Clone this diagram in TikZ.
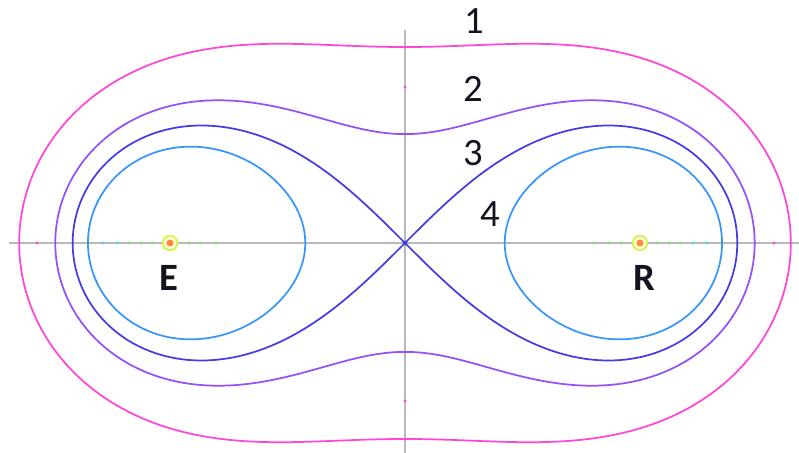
\documentclass[tikz,border=0pt]{standalone}
\usepackage{fontspec}
\setmainfont{Carlito}
\definecolor{cassiniAxis}{RGB}{185,185,185}
\definecolor{cassiniOne}{RGB}{255,70,215}
\definecolor{cassiniTwo}{RGB}{150,80,250}
\definecolor{cassiniThree}{RGB}{70,60,230}
\definecolor{cassiniFour}{RGB}{55,150,250}
\definecolor{cassiniRing}{RGB}{215,245,70}
\definecolor{cassiniFocus}{RGB}{255,135,60}
\definecolor{cassiniDotA}{RGB}{110,230,110}
\definecolor{cassiniDotB}{RGB}{60,215,235}
\definecolor{cassiniText}{RGB}{20,20,30}

\begin{document}
\begin{tikzpicture}[x=75pt,y=75pt,
      declare function={ca=2.35;
        outr(\t,\b)=sqrt(ca*ca*cos(2*\t)+sqrt(\b^4-ca^4*sin(2*\t)*sin(2*\t)));
        wre(\p,\b)=ca*ca+\b*\b*cos(\p);
        wim(\p,\b)=\b*\b*sin(\p);
        wmod(\p,\b)=sqrt(wre(\p,\b)*wre(\p,\b)+wim(\p,\b)*wim(\p,\b));
        warg(\p,\b)=atan2(wim(\p,\b),wre(\p,\b));},
      axis/.style={draw=cassiniAxis, line width=1.3pt},
      oval/.style={line width=1.3pt, line join=round},
      numlabel/.style={font=\fontsize{29}{32}\selectfont,
        text=cassiniText, inner sep=0pt},
      focuslabel/.style={font=\fontsize{29}{32}\selectfont\bfseries,
        text=cassiniText, inner sep=0pt},
      tick/.style={inner sep=0pt, minimum size=2.4pt, circle}]
      \useasboundingbox (-4.05,-2.10) rectangle (3.94,2.43);
      \fill[white] (-4.05,-2.10) rectangle (3.94,2.43);

      % axes
      \coordinate (axW) at (-3.96,0);
      \coordinate (axE) at (3.94,0);
      \coordinate (axN) at (0,2.13);
      \coordinate (axS) at (0,-2.10);
      \draw[axis] (axW) -- (axE);
      \draw[axis] (axN) -- (axS);

      % curves 1 and 2 (one closed oval each)
      \draw[oval, cassiniOne] plot[domain=0:360, samples=181, smooth cycle]
        (\x:{outr(\x,3.06)});
      \draw[oval, cassiniTwo] plot[domain=0:360, samples=181, smooth cycle]
        (\x:{outr(\x,2.59)});
      % curve 3, the lemniscate
      \draw[oval, cassiniThree] plot[domain=0:360, samples=181, smooth]
        ({ca*sqrt(2)*cos(\x)/(1+sin(\x)*sin(\x))},
         {ca*sqrt(2)*sin(\x)*cos(\x)/(1+sin(\x)*sin(\x))});
      % curve 4, two ovals
      \foreach \s in {1,-1}{
        \draw[oval, cassiniFour] plot[domain=0:360, samples=121, smooth]
          ({\s*sqrt(wmod(\x,2.128))*cos(warg(\x,2.128)/2)},
           {\s*sqrt(wmod(\x,2.128))*sin(warg(\x,2.128)/2)});}

      % small points on the axes
      \foreach \p in {1.89,2.04,2.16,2.52,2.64,2.76}{
        \node[tick, fill=cassiniDotA] (gL\p) at (-\p,0) {};
        \node[tick, fill=cassiniDotA] (gR\p) at (\p,0) {};}
      \foreach \p in {2.88,3.02}{
        \node[tick, fill=cassiniDotB] (cL\p) at (-\p,0) {};
        \node[tick, fill=cassiniDotB] (cR\p) at (\p,0) {};}
      \node[tick, fill=cassiniOne] (mW) at (-3.68,0) {};
      \node[tick, fill=cassiniOne] (mE) at (3.69,0) {};
      \node[tick, fill=cassiniOne] (mN) at (0,1.56) {};
      \node[tick, fill=cassiniOne] (mS) at (0,-1.58) {};
      \node[tick, fill=cassiniThree, minimum size=3.5pt] (origin) at (0,0) {};

      % foci
      \foreach \f/\n in {-2.35/focE,2.35/focR}{
        \node[circle, draw=cassiniRing, fill=cassiniRing!25, line width=1.3pt,
          inner sep=0pt, minimum size=11pt] (\n) at (\f,0) {};
        \fill[cassiniFocus] (\n) circle (2.6pt);}

      \node[focuslabel] (labE) at (-2.36,-0.35) {E};
      \node[focuslabel] (labR) at (2.39,-0.35) {R};

      \node[numlabel] (labOne) at (0.69,2.22) {1};
      \node[numlabel] (labTwo) at (0.68,1.54) {2};
      \node[numlabel] (labThree) at (0.68,0.90) {3};
      \node[numlabel] (labFour) at (0.85,0.29) {4};
    \end{tikzpicture}
\end{document}
